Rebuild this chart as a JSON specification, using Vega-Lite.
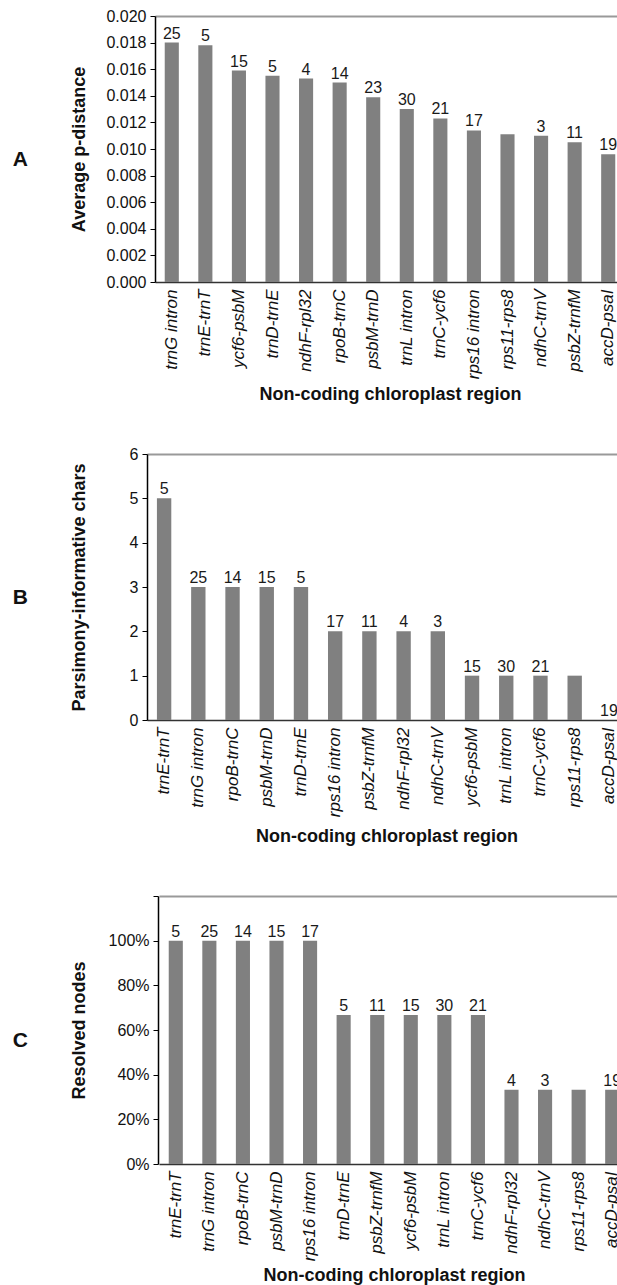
{
  "$schema": "https://vega.github.io/schema/vega-lite/v6.json",
  "padding": {"left": 12, "top": 8, "right": 0, "bottom": 0},
  "spacing": 42,
  "config": {
    "font": "Liberation Sans",
    "view": {"stroke": null},
    "axis": {"grid": false, "domainColor": "#000", "tickColor": "#000", "labelColor": "#111", "titleColor": "#111", "labelFont": "Liberation Sans", "titleFont": "Liberation Sans", "labelOverlap": false},
    "title": {"font": "Liberation Sans", "color": "#111"}
  },
  "datasets": {
    "A": [
      {"region": "trnG intron", "value": 0.0180, "n": 25},
      {"region": "trnE-trnT", "value": 0.0178, "n": 5},
      {"region": "ycf6-psbM", "value": 0.0159, "n": 15},
      {"region": "trnD-trnE", "value": 0.0155, "n": 5},
      {"region": "ndhF-rpl32", "value": 0.0153, "n": 4},
      {"region": "rpoB-trnC", "value": 0.0150, "n": 14},
      {"region": "psbM-trnD", "value": 0.0139, "n": 23},
      {"region": "trnL intron", "value": 0.0130, "n": 30},
      {"region": "trnC-ycf6", "value": 0.0123, "n": 21},
      {"region": "rps16 intron", "value": 0.0114, "n": 17},
      {"region": "rps11-rps8", "value": 0.0111, "n": null},
      {"region": "ndhC-trnV", "value": 0.0110, "n": 3},
      {"region": "psbZ-trnfM", "value": 0.0105, "n": 11},
      {"region": "accD-psaI", "value": 0.0096, "n": 19}
    ],
    "B": [
      {"region": "trnE-trnT", "value": 5, "n": 5},
      {"region": "trnG intron", "value": 3, "n": 25},
      {"region": "rpoB-trnC", "value": 3, "n": 14},
      {"region": "psbM-trnD", "value": 3, "n": 15},
      {"region": "trnD-trnE", "value": 3, "n": 5},
      {"region": "rps16 intron", "value": 2, "n": 17},
      {"region": "psbZ-trnfM", "value": 2, "n": 11},
      {"region": "ndhF-rpl32", "value": 2, "n": 4},
      {"region": "ndhC-trnV", "value": 2, "n": 3},
      {"region": "ycf6-psbM", "value": 1, "n": 15},
      {"region": "trnL intron", "value": 1, "n": 30},
      {"region": "trnC-ycf6", "value": 1, "n": 21},
      {"region": "rps11-rps8", "value": 1, "n": null},
      {"region": "accD-psaI", "value": 0, "n": 19}
    ],
    "C": [
      {"region": "trnE-trnT", "value": 1, "n": 5},
      {"region": "trnG intron", "value": 1, "n": 25},
      {"region": "rpoB-trnC", "value": 1, "n": 14},
      {"region": "psbM-trnD", "value": 1, "n": 15},
      {"region": "rps16 intron", "value": 1, "n": 17},
      {"region": "trnD-trnE", "value": 0.667, "n": 5},
      {"region": "psbZ-trnfM", "value": 0.667, "n": 11},
      {"region": "ycf6-psbM", "value": 0.667, "n": 15},
      {"region": "trnL intron", "value": 0.667, "n": 30},
      {"region": "trnC-ycf6", "value": 0.667, "n": 21},
      {"region": "ndhF-rpl32", "value": 0.333, "n": 4},
      {"region": "ndhC-trnV", "value": 0.333, "n": 3},
      {"region": "rps11-rps8", "value": 0.333, "n": null},
      {"region": "accD-psaI", "value": 0.333, "n": 19}
    ]
  },
  "vconcat": [
    {
      "title": {"text": "A", "orient": "left", "angle": 0, "align": "right", "baseline": "top", "anchor": "middle", "frame": "group", "fontSize": 21, "fontWeight": "bold", "offset": 27},
      "width": 463,
      "height": 266,
      "data": {"name": "A"},
      "resolve": {"axis": {"x": "independent"}},
      "encoding": {
        "y": {"field": "value", "type": "quantitative",
          "scale": {"domain": [0, 0.02], "nice": false},
          "axis": {"title": "Average p-distance", "format": ".3f", "values": [0, 0.002, 0.004, 0.006, 0.008, 0.01, 0.012, 0.014, 0.016, 0.018, 0.02], "labelOverlap": false, "offset": 3, "tickSize": 5, "labelPadding": 4, "labelFontSize": 16, "titleFontSize": 18, "titleFontWeight": "bold", "titlePadding": 12, "minExtent": 55, "domainWidth": 1.5}}
      },
      "layer": [
        {
          "mark": {"type": "bar", "color": "#808080"},
          "encoding": {
            "x": {"field": "region", "type": "nominal", "sort": null,
              "scale": {"range": [-3, 467], "paddingInner": 0.58, "paddingOuter": 0.29},
              "axis": {"title": "Non-coding chloroplast region", "labelAngle": -90, "ticks": false, "labelPadding": 7, "labelFontSize": 17, "labelFontStyle": "italic", "titleFontSize": 18, "titleFontWeight": "bold", "titlePadding": 7, "domainColor": "#333", "domainWidth": 1.5}}
          }
        },
        {
          "transform": [{"filter": "datum.n != null"}],
          "mark": {"type": "text", "baseline": "alphabetic", "dy": -4, "fontSize": 16, "color": "#1a1a1a"},
          "encoding": {
            "x": {"field": "region", "type": "nominal", "sort": null,
              "axis": {"orient": "top", "labels": false, "ticks": false, "title": null, "domainColor": "#999", "domainWidth": 2}},
            "text": {"field": "n"}
          }
        }
      ]
    },
    {
      "title": {"text": "B", "orient": "left", "angle": 0, "align": "right", "baseline": "top", "anchor": "middle", "frame": "group", "fontSize": 21, "fontWeight": "bold", "offset": 27},
      "width": 463,
      "height": 266,
      "data": {"name": "B"},
      "resolve": {"axis": {"x": "independent"}},
      "encoding": {
        "y": {"field": "value", "type": "quantitative",
          "scale": {"domain": [0, 6], "nice": false},
          "axis": {"title": "Parsimony-informative chars", "values": [0, 1, 2, 3, 4, 5, 6], "labelOverlap": false, "offset": 11, "tickSize": 5, "labelPadding": 4, "labelFontSize": 16, "titleFontSize": 18, "titleFontWeight": "bold", "titlePadding": 12, "minExtent": 47, "domainWidth": 1.5}}
      },
      "layer": [
        {
          "mark": {"type": "bar", "color": "#808080"},
          "encoding": {
            "x": {"field": "region", "type": "nominal", "sort": null,
              "scale": {"range": [-11, 468], "paddingInner": 0.58, "paddingOuter": 0.29},
              "axis": {"title": "Non-coding chloroplast region", "labelAngle": -90, "ticks": false, "labelPadding": 7, "labelFontSize": 17, "labelFontStyle": "italic", "titleFontSize": 18, "titleFontWeight": "bold", "titlePadding": 11, "domainColor": "#333", "domainWidth": 1.5}}
          }
        },
        {
          "transform": [{"filter": "datum.n != null"}],
          "mark": {"type": "text", "baseline": "alphabetic", "dy": -4, "fontSize": 16, "color": "#1a1a1a"},
          "encoding": {
            "x": {"field": "region", "type": "nominal", "sort": null,
              "axis": {"orient": "top", "labels": false, "ticks": false, "title": null, "domainColor": "#999", "domainWidth": 2}},
            "text": {"field": "n"}
          }
        }
      ]
    },
    {
      "title": {"text": "C", "orient": "left", "angle": 0, "align": "right", "baseline": "top", "anchor": "middle", "frame": "group", "fontSize": 21, "fontWeight": "bold", "offset": 27},
      "width": 463,
      "height": 268,
      "data": {"name": "C"},
      "resolve": {"axis": {"x": "independent"}},
      "encoding": {
        "y": {"field": "value", "type": "quantitative",
          "scale": {"domain": [0, 1.2], "nice": false},
          "axis": {"title": "Resolved nodes", "format": ".0%", "values": [0, 0.2, 0.4, 0.6, 0.8, 1, 1.2], "labelExpr": "datum.value > 1.1 ? ' ' : datum.label", "labelOverlap": false, "tickSize": 5, "labelPadding": 4, "labelFontSize": 16, "titleFontSize": 18, "titleFontWeight": "bold", "titlePadding": 12, "minExtent": 58, "domainWidth": 1.5}}
      },
      "layer": [
        {
          "mark": {"type": "bar", "color": "#808080"},
          "encoding": {
            "x": {"field": "region", "type": "nominal", "sort": null,
              "scale": {"range": [1, 471], "paddingInner": 0.58, "paddingOuter": 0.29},
              "axis": {"title": "Non-coding chloroplast region", "labelAngle": -90, "ticks": false, "labelPadding": 7, "labelFontSize": 17, "labelFontStyle": "italic", "titleFontSize": 18, "titleFontWeight": "bold", "titlePadding": 6, "domainColor": "#333", "domainWidth": 1.5}}
          }
        },
        {
          "transform": [{"filter": "datum.n != null"}],
          "mark": {"type": "text", "baseline": "alphabetic", "dy": -4, "fontSize": 16, "color": "#1a1a1a"},
          "encoding": {
            "x": {"field": "region", "type": "nominal", "sort": null,
              "axis": {"orient": "top", "labels": false, "ticks": false, "title": null, "domainColor": "#999", "domainWidth": 2}},
            "text": {"field": "n"}
          }
        }
      ]
    }
  ]
}
